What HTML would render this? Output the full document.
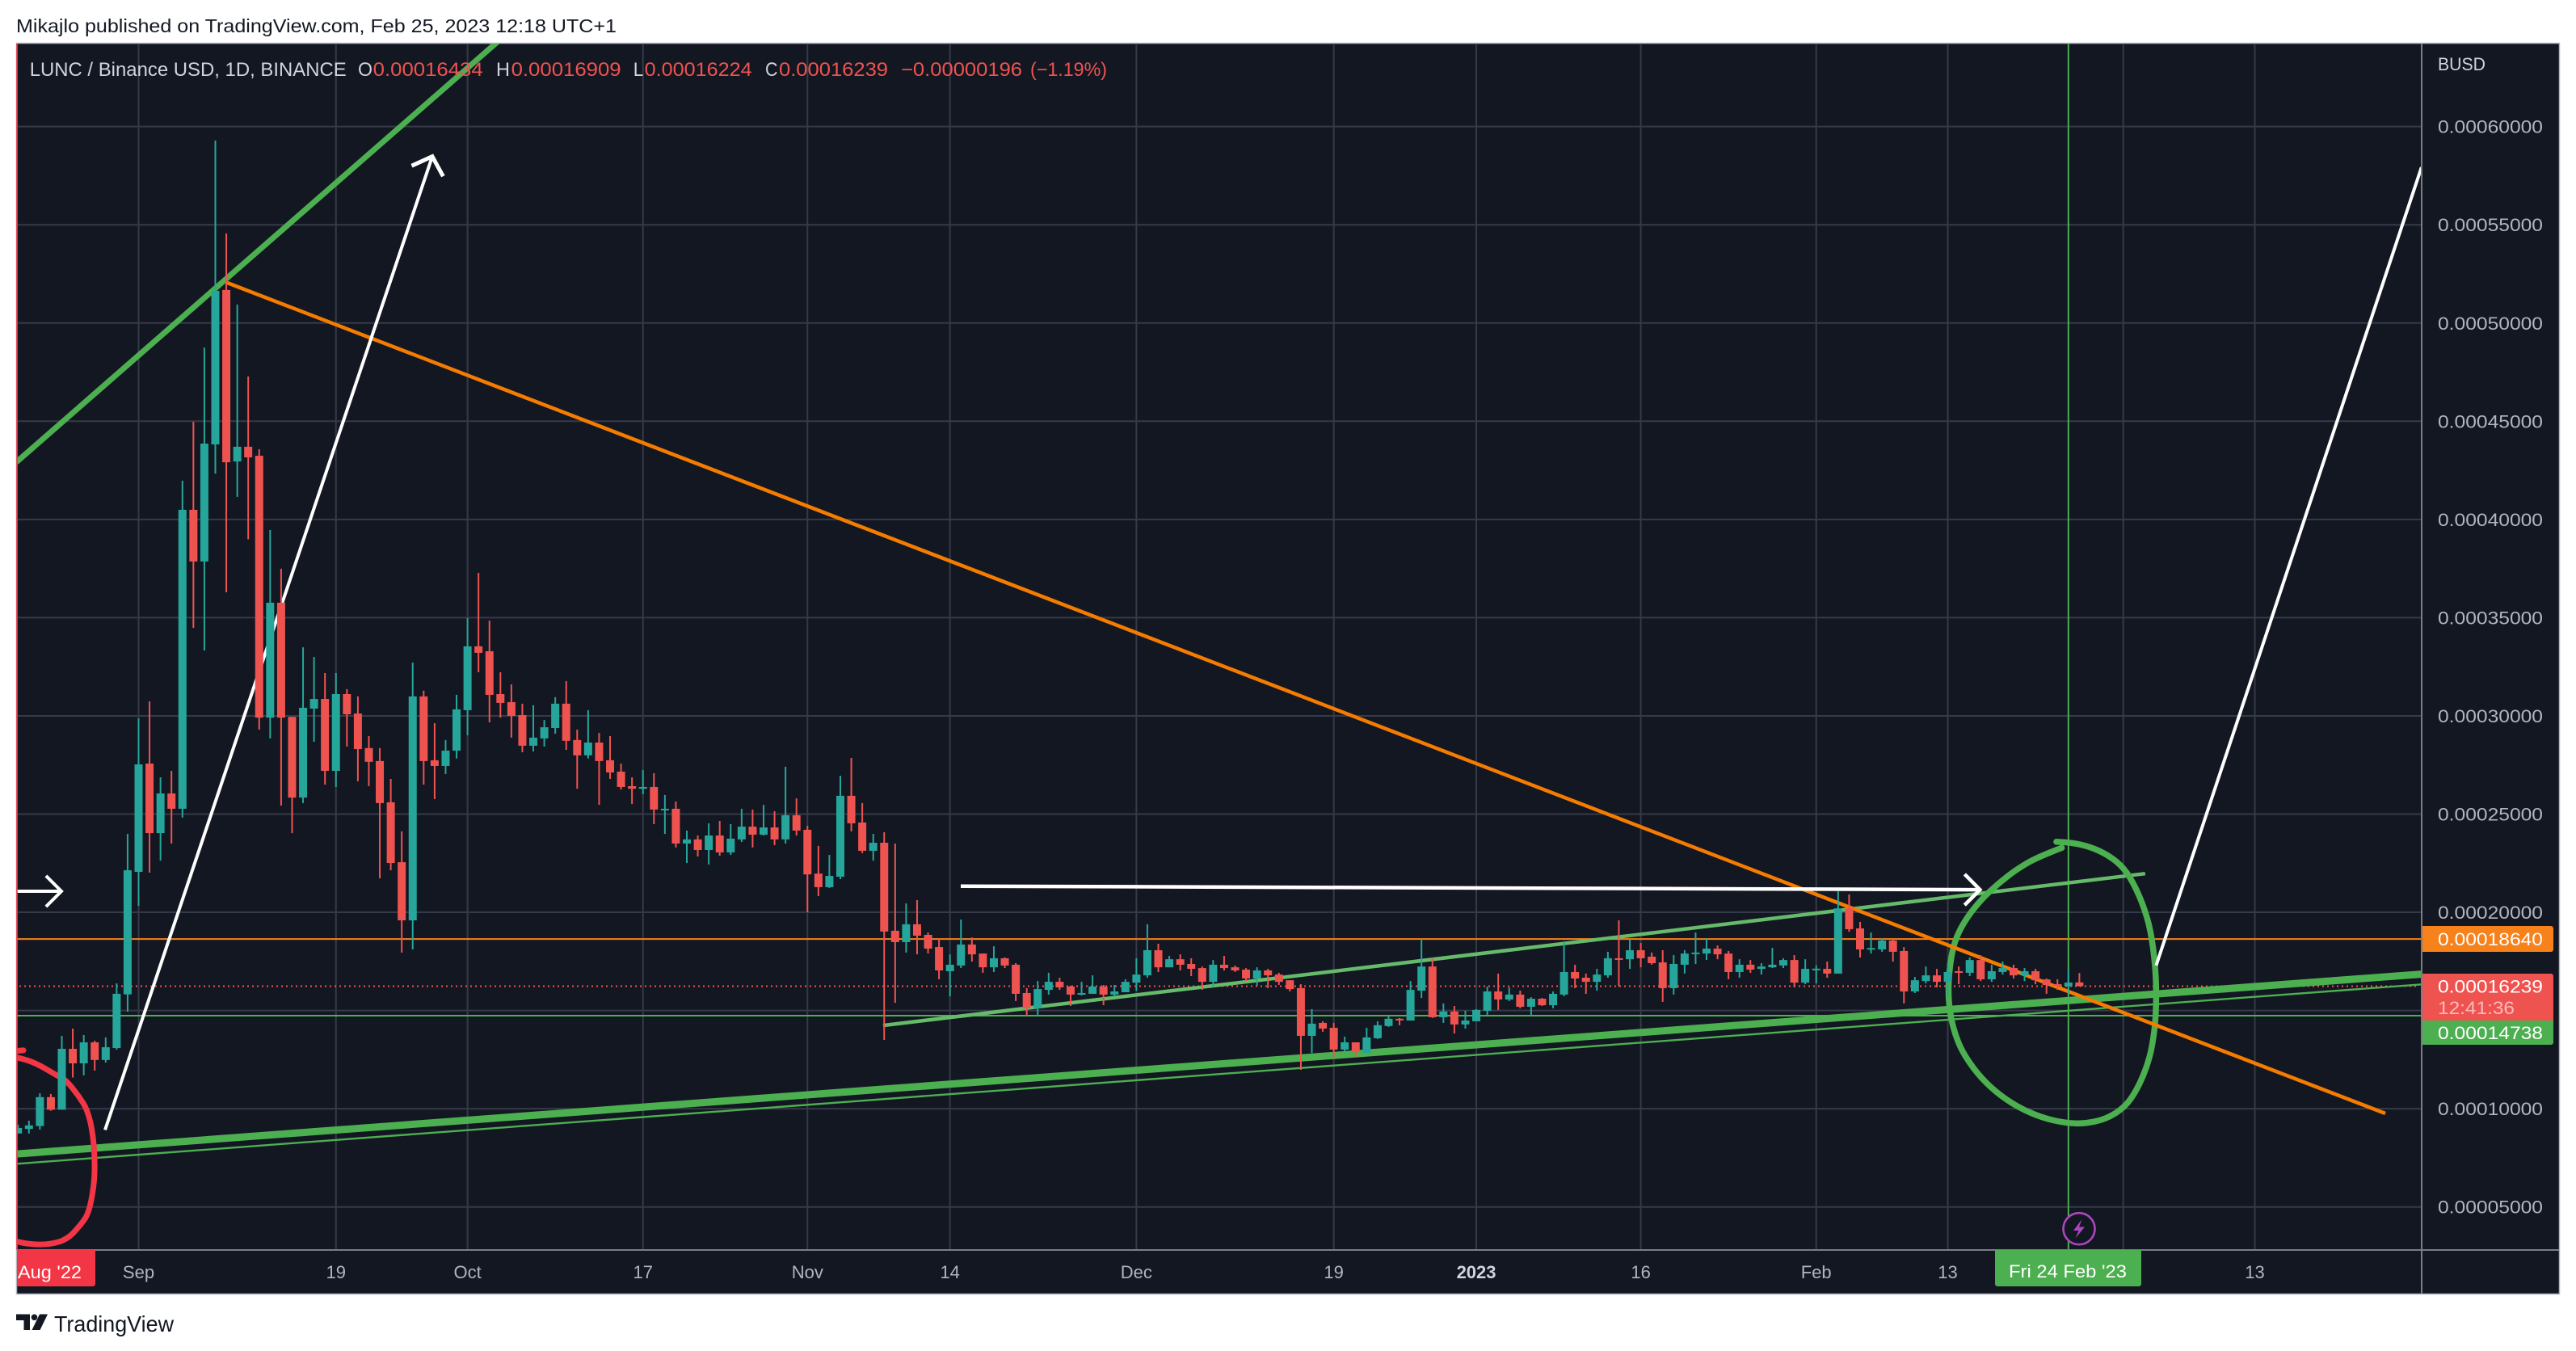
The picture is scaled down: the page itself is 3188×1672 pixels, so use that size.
<!DOCTYPE html>
<html lang="en">
<head>
<meta charset="utf-8">
<title>LUNC / Binance USD chart</title>
<style>
html,body{margin:0;padding:0;background:#fff;width:3188px;height:1672px;overflow:hidden}
svg{display:block;font-family:"Liberation Sans",sans-serif}
</style>
</head>
<body>
<svg id="chart" xmlns="http://www.w3.org/2000/svg" width="3188" height="1672" viewBox="0 0 3188 1672">
  <defs>
    <clipPath id="pane-clip"><rect x="21" y="54" width="2976" height="1493"/></clipPath>
  </defs>
  <rect x="0" y="0" width="3188" height="1672" fill="#ffffff"/>
  <text x="20" y="40" font-size="23" fill="#131722" textLength="743" lengthAdjust="spacingAndGlyphs">Mikajlo published on TradingView.com, Feb 25, 2023 12:18 UTC+1</text>
  <rect x="20.5" y="53.5" width="3147" height="1548" fill="#131722" stroke="#b2b5be" stroke-width="1.5"/>
  <g id="grid"></g>
  <g id="drawings" clip-path="url(#pane-clip)"></g>
  <g id="candles" clip-path="url(#pane-clip)"></g>
  <rect x="20" y="54" width="2" height="1493" fill="#f23645" opacity="0.8"/>
  <rect x="2996" y="54" width="2" height="1547" fill="#7b7d85"/>
  <rect x="21" y="1546" width="3146" height="2" fill="#7b7d85"/>

  <g font-size="24">
    <text x="36.7" y="94" fill="#d1d4dc" textLength="392" lengthAdjust="spacingAndGlyphs">LUNC / Binance USD, 1D, BINANCE</text>
    <text x="443" y="94" fill="#d1d4dc" textLength="18" lengthAdjust="spacingAndGlyphs">O</text>
    <text x="461.7" y="94" fill="#ef5350" textLength="136" lengthAdjust="spacingAndGlyphs">0.00016434</text>
    <text x="614" y="94" fill="#d1d4dc" textLength="17" lengthAdjust="spacingAndGlyphs">H</text>
    <text x="632.6" y="94" fill="#ef5350" textLength="136" lengthAdjust="spacingAndGlyphs">0.00016909</text>
    <text x="783.7" y="94" fill="#d1d4dc" textLength="12.5" lengthAdjust="spacingAndGlyphs">L</text>
    <text x="797.6" y="94" fill="#ef5350" textLength="133" lengthAdjust="spacingAndGlyphs">0.00016224</text>
    <text x="947" y="94" fill="#d1d4dc" textLength="15.5" lengthAdjust="spacingAndGlyphs">C</text>
    <text x="964" y="94" fill="#ef5350" textLength="135" lengthAdjust="spacingAndGlyphs">0.00016239</text>
    <text x="1115" y="94" fill="#ef5350" textLength="150" lengthAdjust="spacingAndGlyphs">−0.00000196</text>
    <text x="1275" y="94" fill="#ef5350" textLength="95" lengthAdjust="spacingAndGlyphs">(−1.19%)</text>
  </g>

  <text x="3017" y="87" font-size="22" fill="#d1d4dc" textLength="59" lengthAdjust="spacingAndGlyphs">BUSD</text>
  <g id="price-ticks"></g>
  <g id="time-ticks"></g>

  <g>
    <path d="M2998 1146H3157a3 3 0 0 1 3 3V1175a3 3 0 0 1 -3 3H2998Z" fill="#f7811a"/>
    <text x="3017" y="1170" font-size="22" fill="#ffffff" textLength="130" lengthAdjust="spacingAndGlyphs">0.00018640</text>
  </g>
  <g>
    <path d="M2998 1205H3157a3 3 0 0 1 3 3V1264H2998Z" fill="#ef5350"/>
    <text x="3017" y="1228.5" font-size="22" fill="#ffffff" textLength="130" lengthAdjust="spacingAndGlyphs">0.00016239</text>
    <text x="3017" y="1255" font-size="22" fill="#ffffff" fill-opacity="0.6" textLength="95" lengthAdjust="spacingAndGlyphs">12:41:36</text>
  </g>
  <g>
    <path d="M2998 1263H3160V1290a3 3 0 0 1 -3 3H2998Z" fill="#4caf50"/>
    <text x="3017" y="1286" font-size="22" fill="#ffffff" textLength="130" lengthAdjust="spacingAndGlyphs">0.00014738</text>
  </g>

  <g>
    <path d="M21 1547H118V1589a3 3 0 0 1 -3 3H21Z" fill="#f23645"/>
    <text x="22" y="1582" font-size="22" fill="#ffffff" textLength="79" lengthAdjust="spacingAndGlyphs">Aug '22</text>
  </g>
  <g>
    <path d="M2469 1547H2650V1589a3 3 0 0 1 -3 3H2472a3 3 0 0 1 -3 -3Z" fill="#4caf50"/>
    <text x="2486" y="1581" font-size="22" fill="#ffffff" textLength="146" lengthAdjust="spacingAndGlyphs">Fri 24 Feb '23</text>
  </g>

  <g>
    <circle cx="2573" cy="1520.7" r="19.5" fill="#131722" stroke="#ab47bc" stroke-width="2.6"/>
    <path d="M2576.5 1509L2566 1523H2572.5L2568.5 1532.5L2580 1518.5H2573Z" fill="#ab47bc"/>
  </g>

  <g>
    <path d="M20 1626.5H37V1646H29.5V1634H20Z" fill="#131722"/>
    <circle cx="42.5" cy="1630.3" r="3.8" fill="#131722"/>
    <path d="M49 1626.5H59L49.5 1646H39.5Z" fill="#131722"/>
    <text x="67" y="1648" font-size="28" fill="#131722" textLength="148" lengthAdjust="spacingAndGlyphs">TradingView</text>
  </g>
</svg>

<script>
// Prices below are in units of 0.00001 BUSD; index 0 of each candle array is firstDay.
const firstDay = -11; // days relative to 1 Sep 2022
const opens = [
8.74,8.97,9.12,10.59,9.95,13.05,12.31,13.38,12.48,13.09,
15.82,22.06,27.57,24.03,26.05,25.27,40.49,37.86,43.82,51.68,
42.95,43.70,43.24,29.91,35.76,29.95,25.84,30.37,30.86,27.20,
31.11,30.12,28.36,27.70,25.60,22.55,19.59,30.99,27.74,27.45,
28.23,30.29,33.54,33.29,31.11,30.70,30.04,28.48,28.85,29.38,
30.62,28.77,27.99,28.64,27.74,27.16,26.42,26.29,26.38,25.19,
25.27,23.50,23.71,23.17,23.91,23.05,23.71,24.36,23.95,24.32,
23.71,24.94,24.20,21.97,21.28,21.81,25.93,24.57,23.13,23.54,
19.06,18.48,19.39,18.85,18.23,17.00,17.29,18.36,17.90,17.20,
17.66,17.33,15.89,15.11,16.05,16.46,16.22,15.81,15.85,16.22,
15.81,15.93,16.42,16.79,18.07,17.20,17.61,17.37,17.16,16.46,
17.33,17.20,17.08,16.63,17.04,16.83,16.54,16.14,13.71,14.37,
14.12,13.01,13.38,12.84,13.59,14.21,14.58,14.49,16.01,17.24,
14.66,14.95,14.29,14.45,14.99,15.97,15.56,15.81,15.19,15.60,
15.27,15.81,16.96,16.67,16.46,16.79,17.66,17.61,18.07,17.74,
17.45,16.14,17.33,17.88,17.90,18.15,17.90,16.96,17.33,17.12,
17.20,17.29,17.57,16.42,17.08,17.12,16.88,20.20,19.18,18.10,
18.11,18.56,18.03,15.97,16.50,16.79,16.46,17.00,16.92,17.57,
16.59,16.96,17.16,16.79,17.00,16.58,16.34,16.23,16.43];
const closes = [
9.02,9.15,10.59,9.95,13.05,12.31,13.38,12.48,13.13,15.85,
22.14,27.53,24.03,26.05,25.27,40.49,37.86,43.86,51.64,42.91,
43.70,43.16,29.91,35.76,29.91,25.84,30.41,30.86,27.20,31.11,
30.08,28.31,27.66,25.56,22.51,19.59,30.99,27.70,27.45,28.23,
30.33,33.54,33.21,31.07,30.66,30.00,28.48,28.89,29.42,30.62,
28.73,27.99,28.64,27.70,27.12,26.38,26.29,26.38,25.23,25.27,
23.50,23.71,23.17,23.91,23.05,23.75,24.36,23.95,24.32,23.71,
24.94,24.16,21.93,21.28,21.85,25.93,24.53,23.13,23.54,19.02,
18.48,19.39,18.81,18.15,17.04,17.33,18.36,17.86,17.20,17.66,
17.29,15.85,15.11,16.09,16.46,16.18,15.81,15.89,16.22,15.81,
15.97,16.46,16.83,18.07,17.20,17.61,17.33,17.12,16.46,17.33,
17.16,17.04,16.63,17.04,16.79,16.46,16.09,13.71,14.33,14.08,
13.01,13.38,12.89,13.63,14.25,14.58,14.53,16.05,17.24,14.66,
14.95,14.29,14.49,15.03,15.97,15.56,15.81,15.19,15.60,15.27,
15.85,16.96,16.63,16.46,16.83,17.66,17.61,18.07,17.66,17.41,
16.14,17.37,17.90,17.95,18.15,17.86,16.96,17.33,17.08,17.24,
17.33,17.57,16.42,17.12,17.13,16.88,20.20,19.14,18.11,18.18,
18.56,17.99,15.97,16.54,16.79,16.46,16.96,16.92,17.57,16.59,
17.00,17.16,16.79,17.00,16.54,16.30,16.26,16.42,16.24];
const highs = [
9.19,9.39,10.79,10.75,13.71,14.08,13.75,13.46,13.63,16.38,
23.99,29.87,30.74,26.87,27.20,41.97,44.97,48.75,59.29,54.56,
50.94,47.28,43.57,39.46,37.49,29.95,33.49,33.00,32.18,32.18,
31.36,30.99,28.97,28.36,26.79,24.12,32.71,31.28,29.63,28.77,
31.07,34.98,37.28,34.85,32.22,31.60,30.62,30.54,29.79,30.95,
31.77,29.30,30.29,29.13,28.97,27.57,26.87,27.24,27.08,25.97,
25.64,24.16,23.91,24.53,24.65,24.49,25.27,25.23,25.47,25.14,
27.41,25.80,24.40,23.38,22.92,26.95,27.86,25.56,23.99,24.08,
23.50,20.45,20.62,18.97,18.68,17.86,19.63,18.72,17.90,18.27,
17.70,17.41,16.14,16.50,16.92,16.67,16.26,16.46,16.79,16.30,
16.30,16.59,17.66,19.39,18.40,17.78,17.86,17.66,17.24,17.57,
17.78,17.29,17.16,17.20,17.12,16.92,16.54,16.34,15.07,14.45,
14.37,13.67,13.38,14.12,14.45,14.70,14.62,16.50,18.64,17.66,
15.36,15.23,14.99,15.07,16.22,16.88,16.18,16.01,15.68,15.64,
15.97,18.52,17.33,16.88,17.12,17.99,19.59,18.64,18.44,17.95,
18.07,17.82,18.07,18.97,18.68,18.31,18.03,17.61,17.57,17.41,
18.19,17.66,17.82,17.61,17.29,17.49,21.07,20.91,19.51,18.97,
18.68,18.64,18.23,16.71,17.24,17.12,17.41,17.24,17.70,17.82,
17.33,17.49,17.33,17.16,17.12,16.63,16.59,17.12,16.91];
const lows = [
8.74,8.74,8.94,9.90,9.95,11.59,11.70,11.94,12.35,13.01,
14.94,20.33,22.02,22.63,23.50,24.82,34.48,33.33,42.33,36.29,
41.15,38.99,29.30,28.85,25.43,24.03,25.56,28.68,26.50,26.38,
28.44,26.67,26.42,21.73,22.14,17.95,18.11,26.50,25.76,27.04,
27.83,29.01,32.22,29.67,29.91,28.89,28.15,28.19,28.44,29.09,
28.27,26.29,27.83,25.47,26.79,26.25,25.51,26.01,24.49,23.99,
23.30,22.51,22.84,22.43,22.88,22.92,23.58,23.30,23.91,23.42,
23.50,23.91,20.00,20.83,21.24,21.69,24.12,23.01,22.63,13.50,
15.39,17.95,17.86,17.90,16.59,15.72,17.16,17.49,16.92,16.96,
17.16,15.48,14.74,14.74,15.81,16.05,15.23,15.77,15.85,15.27,
15.72,15.93,16.01,16.67,16.96,17.20,17.04,16.75,16.05,16.22,
17.04,16.96,16.50,16.26,16.14,16.30,15.97,11.98,12.84,13.92,
12.60,12.93,12.64,12.84,13.55,14.17,14.25,14.49,15.64,14.62,
14.37,13.83,14.08,14.45,14.74,15.03,15.48,15.11,14.74,15.23,
15.11,15.72,16.14,15.85,16.01,16.67,16.22,17.12,17.20,17.33,
15.44,15.81,16.88,17.37,17.57,17.61,16.59,16.67,16.92,16.83,
17.16,17.16,16.18,16.34,16.38,16.67,16.88,19.01,17.70,17.90,
17.99,17.49,15.36,15.89,16.38,16.18,15.72,16.34,16.75,16.50,
16.46,16.83,16.63,16.50,16.34,15.85,16.05,15.85,16.22];

const priceTicks = [60,55,50,45,40,35,30,25,20,15,10,5];
const hiddenPriceTicks = [15];
const timeTickDays = [0,18,30,46,61,74,91,109,122,137,153,165,181,193];
const timeTickLabels = ['Sep','19','Oct','17','Nov','14','Dec','19','2023','16','Feb','13','','13'];
const boldTimeLabels = ['2023'];

const resistanceLevel = 18.64;
const lastPrice = 16.239;
const crosshairPrice = 14.738;
const crosshairDay = 176;

// Drawings: each point is [day, price].
const steepTrendLine = [[-11.16,42.91],[33.05,64.47]];
const fallingTrendLine = [[8.07,52.05],[204.9,9.76]];
const thickSupportLine = [[-11.5,7.68],[208.2,16.85]];
const thinSupportLine = [[-11.5,7.18],[208.2,16.33]];
const channelLine = [[67.9,14.24],[183.0,21.97]];
const rallyArrow = [[-3.06,8.92],[26.79,58.48]];
const entryArrow = [[-11.16,21.07],[-7.04,21.07]];
const levelArrow = [[74.98,21.33],[167.94,21.15]];
const projectionLine = [[184.0,17.29],[208.2,57.93]];
const redCircleStub = [[-11.2,12.94],[-10.5,12.97]];
const redCircle = [[-11.5,12.63],[-11.02,12.61],[-9.45,12.35],[-7.35,11.66],[-6.62,11.45],[-5.51,10.69],[-4.66,9.94],[-4.16,8.74],[-3.99,7.39],[-4.04,6.19],[-4.53,4.69],[-5.27,4.09],[-6.50,3.34],[-8.22,3.07],[-10.18,3.11],[-11.5,3.3]];
const greenCircle = [[175.40,23.28],[173.31,22.84],[171.35,22.22],[169.62,21.47],[167.91,20.58],[166.43,19.48],[165.57,18.45],[165.20,17.36],[165.03,16.12],[165.16,15.02],[165.57,13.93],[166.31,12.90],[167.66,11.80],[169.38,10.84],[171.35,10.09],[173.56,9.54],[175.77,9.27],[177.49,9.24],[179.45,9.47],[181.17,10.09],[182.28,10.98],[183.26,12.28],[183.75,13.51],[184.0,14.89],[184.0,16.81],[183.62,18.73],[183.01,20.10],[181.91,21.54],[180.80,22.43],[179.2,23.05],[177.49,23.42],[176.01,23.55],[174.9,23.59]];

const SVGNS = 'http://www.w3.org/2000/svg';
const xOf = d => 171.5 + 13.57 * d;
const yOf = p => 1493.7 - (p - 5) * 24.31;
const paneLeft = 21, paneRight = 2997, paneTop = 54, paneBottom = 1547;

function shape(tag, parent, attrs) {
  const el = document.createElementNS(SVGNS, tag);
  for (const k in attrs) el.setAttribute(k, attrs[k]);
  parent.appendChild(el);
  return el;
}
function pointsAttr(pts) { return pts.map(p => xOf(p[0]).toFixed(1) + ',' + yOf(p[1]).toFixed(1)).join(' '); }
function smoothPath(pts) {
  const c = pts.map(p => [xOf(p[0]), yOf(p[1])]);
  let d = 'M' + c[0][0].toFixed(1) + ' ' + c[0][1].toFixed(1);
  for (let i = 1; i < c.length - 1; i++) {
    const mx = (c[i][0] + c[i+1][0]) / 2, my = (c[i][1] + c[i+1][1]) / 2;
    d += 'Q' + c[i][0].toFixed(1) + ' ' + c[i][1].toFixed(1) + ' ' + mx.toFixed(1) + ' ' + my.toFixed(1);
  }
  const l = c[c.length-1];
  return d + 'L' + l[0].toFixed(1) + ' ' + l[1].toFixed(1);
}
function headPoints(line, len, deg) {
  const x1 = xOf(line[0][0]), y1 = yOf(line[0][1]), x2 = xOf(line[1][0]), y2 = yOf(line[1][1]);
  const a = Math.atan2(y1 - y2, x1 - x2), r = deg * Math.PI / 180;
  return (x2 + len * Math.cos(a + r)).toFixed(1) + ',' + (y2 + len * Math.sin(a + r)).toFixed(1) + ' ' +
         x2.toFixed(1) + ',' + y2.toFixed(1) + ' ' +
         (x2 + len * Math.cos(a - r)).toFixed(1) + ',' + (y2 + len * Math.sin(a - r)).toFixed(1);
}

// Grid
const grid = document.getElementById('grid');
priceTicks.forEach(p => {
  const y = yOf(p);
  const line = shape('line', grid, {x1: paneLeft, x2: paneRight, y1: y, y2: y, stroke: '#363a48', 'stroke-width': 2});
  
  
});
timeTickDays.forEach(d => {
  const x = xOf(d);
  const line = shape('line', grid, {x1: x, x2: x, y1: paneTop, y2: paneBottom, stroke: '#363a48', 'stroke-width': 2});
  
  
});

// Axis labels
const priceGroup = document.getElementById('price-ticks');
priceTicks.forEach(p => {
  const t = shape('text', priceGroup, {x: 3017, y: yOf(p) + 8, 'font-size': 22, fill: '#b2b5be', textLength: 130, lengthAdjust: 'spacingAndGlyphs'});
  t.textContent = (p / 100000).toFixed(8);
  
  
  if (hiddenPriceTicks.includes(p)) t.setAttribute('visibility', 'hidden');
});
const timeGroup = document.getElementById('time-ticks');
timeTickDays.forEach((d, i) => {
  if (!timeTickLabels[i]) return;
  const bold = boldTimeLabels.includes(timeTickLabels[i]);
  const t = shape('text', timeGroup, {x: xOf(d), y: 1582, 'font-size': 22, fill: bold ? '#d1d4dc' : '#b2b5be', 'text-anchor': 'middle', 'font-weight': bold ? 700 : 400});
  t.textContent = timeTickLabels[i];
  
  
});

// Drawings
const drawings = document.getElementById('drawings');

const resistanceLine = shape('line', drawings, {x1: paneLeft, x2: paneRight, y1: yOf(resistanceLevel), y2: yOf(resistanceLevel), stroke: '#f7811a', 'stroke-width': 2});



const crosshairH = shape('line', drawings, {x1: paneLeft, x2: paneRight, y1: yOf(crosshairPrice), y2: yOf(crosshairPrice), stroke: '#4caf50', 'stroke-width': 2});



const crosshairV = shape('line', drawings, {x1: xOf(crosshairDay), x2: xOf(crosshairDay), y1: paneTop, y2: paneBottom, stroke: '#4caf50', 'stroke-width': 2});



const priceLine = shape('line', drawings, {x1: paneLeft + 3, x2: paneRight - 3, y1: yOf(lastPrice), y2: yOf(lastPrice), stroke: '#ef5350', 'stroke-width': 2, 'stroke-dasharray': '2 4'});



const lineSteep = shape('polyline', drawings, {points: pointsAttr(steepTrendLine), fill: 'none', stroke: '#4caf50', 'stroke-width': 7});



const lineThick = shape('polyline', drawings, {points: pointsAttr(thickSupportLine), fill: 'none', stroke: '#4caf50', 'stroke-width': 9});



const lineThin = shape('polyline', drawings, {points: pointsAttr(thinSupportLine), fill: 'none', stroke: '#4caf50', 'stroke-width': 2.4});



const lineChannel = shape('polyline', drawings, {points: pointsAttr(channelLine), fill: 'none', stroke: '#66bb6a', 'stroke-width': 4.5});



const circleGreen = shape('path', drawings, {d: smoothPath(greenCircle), fill: 'none', stroke: '#4caf50', 'stroke-width': 7.5, 'stroke-linecap': 'round', 'stroke-linejoin': 'round'});



const circleRed = shape('path', drawings, {d: smoothPath(redCircle), fill: 'none', stroke: '#f23645', 'stroke-width': 7, 'stroke-linecap': 'round', 'stroke-linejoin': 'round'});



const stubRed = shape('polyline', drawings, {points: pointsAttr(redCircleStub), fill: 'none', stroke: '#f23645', 'stroke-width': 7, 'stroke-linecap': 'round'});



const lineFalling = shape('polyline', drawings, {points: pointsAttr(fallingTrendLine), fill: 'none', stroke: '#f57c00', 'stroke-width': 4.5});



const lineProjection = shape('polyline', drawings, {points: pointsAttr(projectionLine), fill: 'none', stroke: '#ffffff', 'stroke-width': 4});



const arrowRally = shape('polyline', drawings, {points: pointsAttr(rallyArrow), fill: 'none', stroke: '#ffffff', 'stroke-width': 4});


const arrowRallyHead = shape('polyline', drawings, {points: headPoints(rallyArrow, 28, 47), fill: 'none', stroke: '#ffffff', 'stroke-width': 5});



const arrowEntry = shape('polyline', drawings, {points: pointsAttr(entryArrow), fill: 'none', stroke: '#ffffff', 'stroke-width': 4});


const arrowEntryHead = shape('polyline', drawings, {points: headPoints(entryArrow, 27, 45), fill: 'none', stroke: '#ffffff', 'stroke-width': 4});



const arrowLevel = shape('polyline', drawings, {points: pointsAttr(levelArrow), fill: 'none', stroke: '#ffffff', 'stroke-width': 4.5});


const arrowLevelHead = shape('polyline', drawings, {points: headPoints(levelArrow, 27, 45), fill: 'none', stroke: '#ffffff', 'stroke-width': 4.5});



// Candles
const candleLayer = document.getElementById('candles');
const bodyWidth = 10, wickWidth = 2, minBody = 2;
opens.forEach((o, i) => {
  const c = closes[i], color = c >= o ? '#26a69a' : '#ef5350';
  const x = xOf(firstDay + i);
  const top = yOf(Math.max(o, c)), bottom = yOf(Math.min(o, c));
  const g = shape('g', candleLayer, {});
  
  
  const wick = shape('rect', g, {x: x - wickWidth / 2, y: yOf(highs[i]), width: wickWidth, height: Math.max(1, yOf(lows[i]) - yOf(highs[i])), fill: color});
  
  
  const body = shape('rect', g, {x: x - bodyWidth / 2, y: top, width: bodyWidth, height: Math.max(minBody, bottom - top), fill: color});
  
  
});
</script>
</body>
</html>
